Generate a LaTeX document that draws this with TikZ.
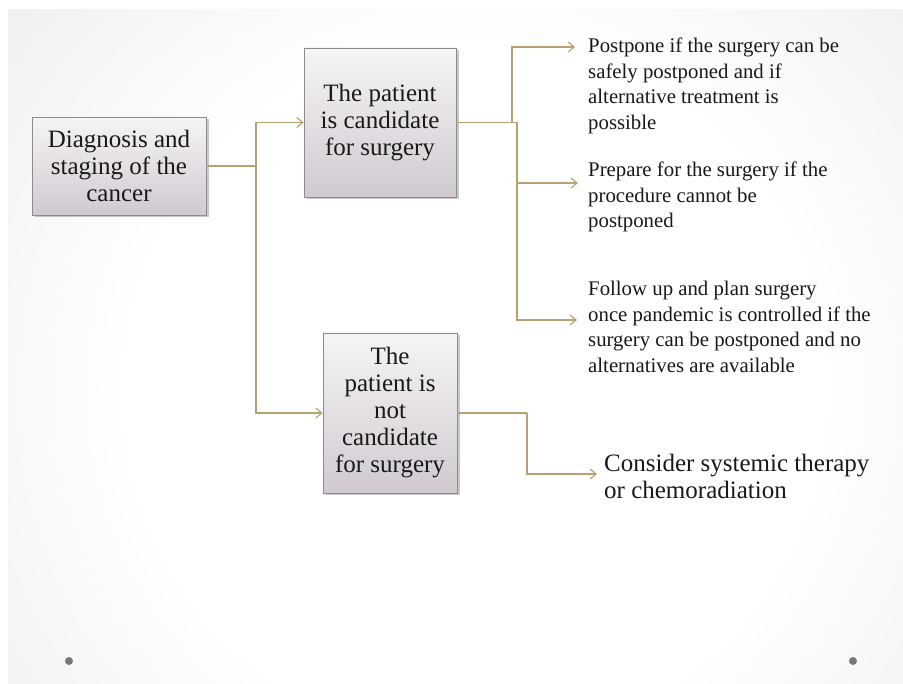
\documentclass[tikz,border=0pt]{standalone}
\usepackage{fontspec}
\setmainfont{Liberation Serif}
\usetikzlibrary{arrows.meta,shadows}
\definecolor{bgmid}{RGB}{232,232,232}
\definecolor{bgdark}{RGB}{204,204,204}
\definecolor{boxtop}{RGB}{246,244,246}
\definecolor{boxbot}{RGB}{208,202,208}
\definecolor{boxline}{RGB}{140,140,140}
\definecolor{conn}{RGB}{184,160,116}
\definecolor{ink}{RGB}{25,25,25}
\definecolor{dotc}{RGB}{120,120,120}
\pgfdeclareradialshading{slidebg}{\pgfpoint{0bp}{0bp}}{color(0bp)=(white); color(14bp)=(white); color(30bp)=(bgmid); color(50bp)=(bgdark)}
\tikzset{
  boxnode/.style={draw=boxline, line width=0.8pt, top color=boxtop, bottom color=boxbot,
    inner sep=0pt, align=center, text=ink, font=\fontsize{25}{27}\selectfont,
    drop shadow={shadow xshift=2.5pt, shadow yshift=-2.5pt, opacity=0.35, fill=black!60}},
  optnode/.style={anchor=west, inner sep=0pt, align=left, text=ink, font=\fontsize{20.8}{25.5}\selectfont},
  bignode/.style={anchor=west, inner sep=0pt, align=left, text=ink, font=\fontsize{25}{27}\selectfont},
  conline/.style={draw=conn, line width=1.2pt},
  conarrow/.style={conline, -{Straight Barb[length=6pt,width=10pt,line width=1.1pt]}},
  dotnode/.style={circle, fill=dotc, inner sep=0pt, minimum size=8pt}
}
\begin{document}
\begin{tikzpicture}[x=1pt,y=-1pt]
\useasboundingbox (0,0) rectangle (903,684);
\fill[white] (0,0) rectangle (903,684);
\begin{scope}
  \clip (8,10) rectangle (903,684);
  \shade[shading=slidebg] (475,390) circle (620);
\end{scope}
\node[dotnode] (d1) at (69,661) {};
\node[dotnode] (d2) at (853,661) {};

\node[boxnode, minimum width=174pt, minimum height=98pt] (diag) at (119,166)
  {Diagnosis and\\staging of the\\cancer};
\node[boxnode, minimum width=152pt, minimum height=149pt] (cand) at (380,122.5)
  {The patient\\is candidate\\for surgery};
\node[boxnode, minimum width=134pt, minimum height=160pt] (notc) at (390,413)
  {The\\patient is\\not\\candidate\\for surgery};

\node[optnode] (t1) at (588,86) {Postpone if the surgery can be\\safely postponed and if\\alternative treatment is\\possible};
\node[optnode] (t2) at (588,197) {Prepare for the surgery if the\\procedure cannot be\\postponed};
\node[optnode] (t3) at (588,327) {Follow up and plan surgery\\once pandemic is controlled if the\\surgery can be postponed and no\\alternatives are available};
\node[bignode] (t4) at (604,476) {Consider systemic therapy\\or chemoradiation};

\coordinate (j1) at (256,166);
\coordinate (j2) at (512,122.5);
\coordinate (j3) at (517,122.5);
\coordinate (j4) at (527,413);
\coordinate (a1) at (575,47);
\coordinate (a2) at (578,183);
\coordinate (a3) at (577,320);
\coordinate (a4) at (597,474);

\draw[conline] (diag.east) -- (j1);
\draw[conarrow] (j1) |- (cand.west);
\draw[conarrow] (j1) |- (notc.west);
\draw[conline] (cand.east) -- (j3);
\draw[conarrow] (j2) |- (a1);
\draw[conarrow] (j3) |- (a2);
\draw[conarrow] (j3) |- (a3);
\draw[conline] (notc.east) -- (j4);
\draw[conarrow] (j4) |- (a4);
\end{tikzpicture}
\end{document}
